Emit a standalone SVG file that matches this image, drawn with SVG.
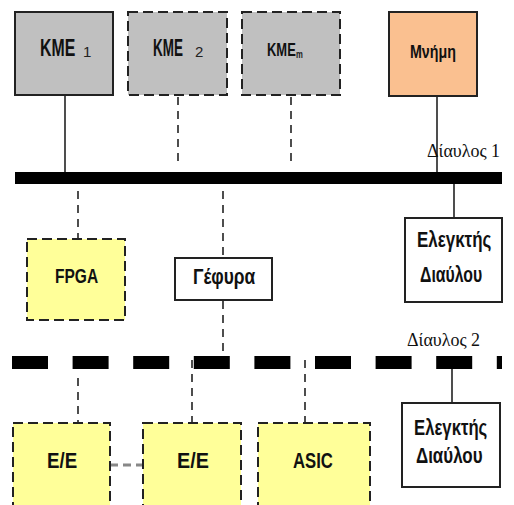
<svg xmlns="http://www.w3.org/2000/svg" width="514" height="505" viewBox="0 0 514 505">
<style>
.solid{stroke:#222;stroke-width:2}
.dash{stroke:#222;stroke-width:2;stroke-dasharray:10 5}
.conn{stroke:#222;stroke-width:1.6;fill:none}
.cd{stroke-dasharray:8 6}
.t{font-family:"Liberation Sans",Arial,sans-serif;font-weight:bold;fill:#111}
.sub{font-family:"Liberation Sans",Arial,sans-serif;fill:#222}
.serif{font-family:"Liberation Serif","Times New Roman",serif;fill:#111;font-size:18px}
</style>
<rect width="514" height="505" fill="#fff"/>
<g id="connectors">
<line class="conn" x1="65" y1="95" x2="65" y2="173"/>
<line class="conn cd" x1="178" y1="97" x2="178" y2="163"/>
<line class="conn cd" x1="291" y1="97" x2="291" y2="163"/>
<line class="conn" x1="437" y1="96" x2="437" y2="173"/>
<line class="conn cd" x1="78" y1="191" x2="78" y2="239"/>
<line class="conn cd" x1="223" y1="191" x2="223" y2="258"/>
<line class="conn" x1="454" y1="184" x2="454" y2="218"/>
<line class="conn cd" x1="223" y1="301" x2="223" y2="356"/>
<line class="conn cd" x1="78" y1="378" x2="78" y2="423"/>
<line class="conn cd" x1="192" y1="360" x2="192" y2="423"/>
<line class="conn cd" x1="305" y1="360" x2="305" y2="423"/>
<line class="conn" x1="452" y1="368" x2="452" y2="403"/>
<line x1="110" y1="465" x2="143" y2="465" stroke="#888" stroke-width="3" stroke-dasharray="8 5"/>
</g>
<g id="bus1">
<rect x="15" y="172" width="487" height="12" fill="#000"/>
<text class="serif" x="427" y="157">Δίαυλος 1</text>
</g>
<g id="bus2">
<line x1="12" y1="362.5" x2="502" y2="362.5" stroke="#000" stroke-width="13" stroke-dasharray="36 24.6"/>
<text class="serif" x="407" y="346">Δίαυλος 2</text>
</g>
<g id="kme1">
<rect class="solid" x="15" y="12" width="98" height="83" fill="#c0c0c0"/>
<text class="t" transform="translate(40,56) scale(0.66,1)" font-size="24">KME</text>
<text class="sub" x="83" y="57" font-size="15">1</text>
</g>
<g id="kme2">
<rect class="dash" x="128" y="12" width="99" height="83" fill="#c0c0c0"/>
<text class="t" transform="translate(153,56) scale(0.56,1)" font-size="24">KME</text>
<text class="sub" x="195" y="57" font-size="15">2</text>
</g>
<g id="kmem">
<rect class="dash" x="242" y="12" width="98" height="83" fill="#c0c0c0"/>
<text class="t" transform="translate(267,56) scale(0.72,1)" font-size="18">KME</text>
<text class="sub" transform="translate(296,58) scale(0.7,1)" font-size="11" font-weight="bold">m</text>
</g>
<g id="mnimi">
<rect class="solid" x="389" y="12" width="88" height="84" fill="#fac090"/>
<text class="t" transform="translate(410,58) scale(0.75,1)" font-size="19">Μνήμη</text>
</g>
<g id="fpga">
<rect class="dash" x="27" y="239" width="98" height="81" fill="#ffff99"/>
<text class="t" transform="translate(55,283) scale(0.74,1)" font-size="21">FPGA</text>
</g>
<g id="gefyra">
<rect class="solid" x="175" y="258" width="97" height="42" fill="#fff"/>
<text class="t" transform="translate(193,284) scale(0.79,1)" font-size="22">Γέφυρα</text>
</g>
<g id="elegktis1">
<rect class="solid" x="405" y="218" width="97" height="84" fill="#fff"/>
<text class="t" transform="translate(417,247) scale(0.77,1)" font-size="22">Ελεγκτής</text>
<text class="t" transform="translate(420,282) scale(0.72,1)" font-size="22">Διαύλου</text>
</g>
<g id="ee1">
<rect class="dash" x="13" y="423" width="97" height="90" fill="#ffff99"/>
<text class="t" transform="translate(47,468) scale(0.85,1)" font-size="22">E/E</text>
</g>
<g id="ee2">
<rect class="dash" x="143" y="423" width="98" height="90" fill="#ffff99"/>
<text class="t" transform="translate(177,468) scale(0.9,1)" font-size="22">E/E</text>
</g>
<g id="asic">
<rect class="dash" x="258" y="423" width="112" height="90" fill="#ffff99"/>
<text class="t" transform="translate(293,468) scale(0.76,1)" font-size="22">ASIC</text>
</g>
<g id="elegktis2">
<rect class="solid" x="402" y="403" width="98" height="84" fill="#fff"/>
<text class="t" transform="translate(414,435) scale(0.76,1)" font-size="22">Ελεγκτής</text>
<text class="t" transform="translate(416,463) scale(0.77,1)" font-size="22">Διαύλου</text>
</g>
</svg>
